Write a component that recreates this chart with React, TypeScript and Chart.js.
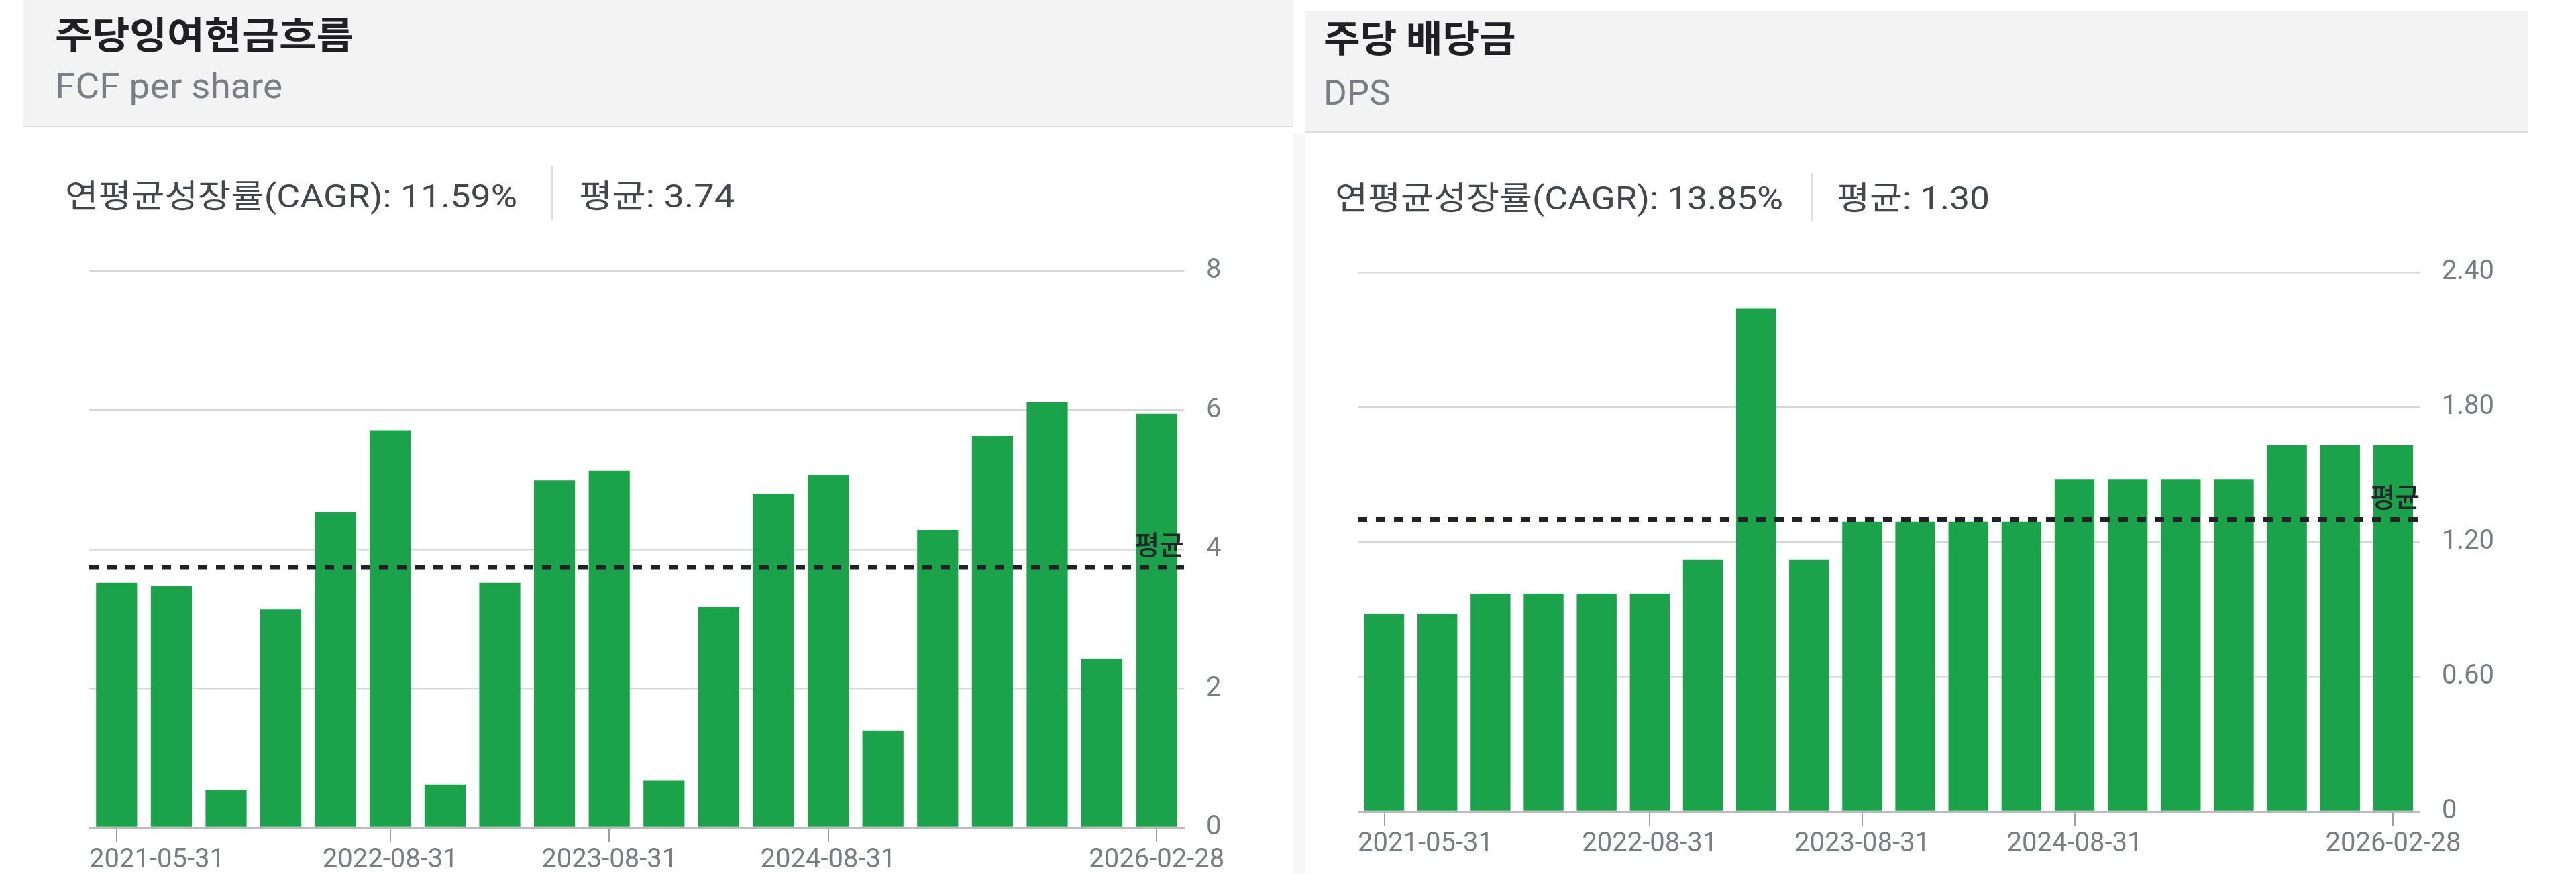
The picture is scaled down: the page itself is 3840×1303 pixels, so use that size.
import React, { useEffect, useRef } from 'react';
import { Chart, registerables } from 'chart.js';

Chart.register(...registerables);

// ---------- data ----------
const periods = [
  '2021-05-31', '2021-08-31', '2021-11-30', '2022-02-28', '2022-05-31',
  '2022-08-31', '2022-11-30', '2023-02-28', '2023-05-31', '2023-08-31',
  '2023-11-30', '2024-02-29', '2024-05-31', '2024-08-31', '2024-11-30',
  '2025-02-28', '2025-05-31', '2025-08-31', '2025-11-30', '2026-02-28',
];
const labeledPeriods = ['2021-05-31', '2022-08-31', '2023-08-31', '2024-08-31', '2026-02-28'];

const fcfPerShare = [
  3.52, 3.47, 0.54, 3.14, 4.53, 5.71, 0.62, 3.52, 4.99, 5.13,
  0.68, 3.17, 4.80, 5.07, 1.39, 4.28, 5.63, 6.11, 2.43, 5.95,
];
const dividendPerShare = [
  0.88, 0.88, 0.97, 0.97, 0.97, 0.97, 1.12, 2.24, 1.12, 1.29,
  1.29, 1.29, 1.29, 1.48, 1.48, 1.48, 1.48, 1.63, 1.63, 1.63,
];

const fcfTicks = [0, 2, 4, 6, 8];
const dpsTicks = [0, 0.6, 1.2, 1.8, 2.4];

const fcfAverage = 3.74;
const dpsAverage = 1.3;
const fcfCagr = '11.59%';
const dpsCagr = '13.85%';

const fcfTitle = '주당잉여현금흐름';
const fcfSubtitle = 'FCF per share';
const dpsTitle = '주당 배당금';
const dpsSubtitle = 'DPS';
const cagrLabel = '연평균성장률(CAGR)';
const averageLabel = '평균';

// ---------- styles ----------
const GREEN = '#1aa34a';
const LATIN = 'Roboto, "Noto Sans CJK KR", sans-serif';
const KR = '"Noto Sans CJK KR", Roboto, sans-serif';

const averagePlugin = (avg: number) => ({
  id: 'averageLine',
  afterDatasetsDraw(chart: any) {
    const { ctx, chartArea, scales } = chart;
    const y = scales.y.getPixelForValue(avg);
    ctx.save();
    ctx.beginPath();
    ctx.setLineDash([14, 13]);
    ctx.lineWidth = 7;
    ctx.strokeStyle = '#222226';
    ctx.moveTo(chartArea.left, y);
    ctx.lineTo(chartArea.right, y);
    ctx.stroke();
    ctx.setLineDash([]);
    ctx.font = '500 40px "Noto Sans CJK KR"';
    ctx.fillStyle = '#26262a';
    ctx.textAlign = 'right';
    ctx.textBaseline = 'alphabetic';
    ctx.fillText(averageLabel, chartArea.right, y - 19);
    ctx.restore();
  },
});

const edgeLabelPlugin = {
  id: 'edgeLabels',
  beforeDraw(chart: any) {
    const s = chart.scales.x;
    const items = s.getLabelItems(chart.chartArea);
    if (!items || !items.length) return;
    items[0].options.textAlign = 'left';
    items[0].options.translation[0] = chart.chartArea.left;
    items[items.length - 1].options.textAlign = 'center';
  },
};

type ChartProps = {
  values: number[];
  tickValues: number[];
  average: number;
  format: (v: number) => string;
  left: number;
  top: number;
  width: number;
  height: number;
  yAxisWidth: number;
  xAxisHeight: number;
  padTop: number;
};

function BarChart(p: ChartProps) {
  const ref = useRef<HTMLCanvasElement>(null);
  useEffect(() => {
    const labeledIdx = labeledPeriods.map((d) => periods.indexOf(d));
    const chart = new Chart(ref.current as HTMLCanvasElement, {
      type: 'bar',
      data: {
        labels: periods,
        datasets: [
          {
            data: p.values,
            backgroundColor: GREEN,
            borderWidth: 0,
            barPercentage: 0.75,
            categoryPercentage: 1,
          },
        ],
      },
      options: {
        responsive: false,
        animation: false,
        events: [],
        layout: { padding: { top: p.padTop, left: 0, right: 0, bottom: 0 } },
        plugins: { legend: { display: false }, tooltip: { enabled: false } },
        scales: {
          x: {
            type: 'category',
            offset: true,
            grid: {
              display: true,
              drawOnChartArea: false,
              drawTicks: true,
              tickLength: 22,
              offset: false,
              color: '#9c9ea5',
              tickColor: '#9c9ea5',
              tickWidth: 2,
              lineWidth: 2,
            },
            border: { display: true, color: '#b8b9c0', width: 3 },
            ticks: {
              autoSkip: false,
              maxRotation: 0,
              minRotation: 0,
              align: 'inner',
              padding: 3,
              color: '#7a7c83',
              font: { family: 'Roboto', size: 40 },
            },
            afterBuildTicks: (scale: any) => {
              scale.ticks = scale.ticks.filter((t: any) => labeledIdx.includes(t.value));
            },
            afterFit: (scale: any) => {
              scale.height = p.xAxisHeight;
            },
          },
          y: {
            position: 'right',
            min: p.tickValues[0],
            max: p.tickValues[p.tickValues.length - 1],
            grid: { color: '#d7d7d7', lineWidth: 2.5, drawTicks: false },
            border: { display: false },
            ticks: {
              padding: 33,
              color: '#7a7c83',
              font: { family: 'Roboto', size: 40 },
              callback: (v: any) => p.format(Number(v)),
            },
            afterBuildTicks: (scale: any) => {
              scale.ticks = p.tickValues.map((v) => ({ value: v }));
            },
            afterFit: (scale: any) => {
              scale.width = p.yAxisWidth;
            },
          },
        },
      } as any,
      plugins: [averagePlugin(p.average), edgeLabelPlugin],
    });
    return () => chart.destroy();
  }, []);
  return (
    <canvas
      ref={ref}
      width={p.width}
      height={p.height}
      style={{ position: 'absolute', left: p.left, top: p.top, width: p.width, height: p.height }}
    />
  );
}

const abs = (o: React.CSSProperties, sx = 1): React.CSSProperties => ({
  position: 'absolute',
  whiteSpace: 'nowrap',
  transform: sx !== 1 ? `scaleX(${sx})` : undefined,
  transformOrigin: 'left center',
  ...o,
});

export default function App() {
  return (
    <div style={abs({ left: 0, top: 0, width: 3840, height: 1303, background: '#ffffff', overflow: 'hidden' })}>
      {/* strip between panels */}
      <div style={abs({ left: 1928, top: 200, width: 17, height: 1103, background: '#f7f7f8' })} />

      {/* left header */}
      <div style={abs({ left: 35, top: 0, width: 1893, height: 188, background: '#f3f3f3', borderBottom: '2px solid #dddddd' })} />
      <div style={abs({ left: 82, top: 21, fontFamily: KR, fontSize: 55, lineHeight: '55px', fontWeight: 700, color: '#202023' }, 1.1)}>{fcfTitle}</div>
      <div style={abs({ left: 82, top: 103, fontFamily: LATIN, fontSize: 52, lineHeight: '52px', color: '#7c7e85' }, 1.06)}>{fcfSubtitle}</div>

      {/* right header */}
      <div style={abs({ left: 1945, top: 16, width: 1823, height: 180, background: '#f3f3f3', borderBottom: '2px solid #dddddd' })} />
      <div style={abs({ left: 1973, top: 26, fontFamily: KR, fontSize: 55, lineHeight: '55px', fontWeight: 700, color: '#202023' }, 1.08)}>{dpsTitle}</div>
      <div style={abs({ left: 1973, top: 113, fontFamily: LATIN, fontSize: 52, lineHeight: '52px', color: '#7c7e85' }, 1.02)}>{dpsSubtitle}</div>

      {/* left stats */}
      <div style={abs({ left: 97, top: 269, fontFamily: LATIN, fontSize: 48, lineHeight: '48px', color: '#45464b' }, 1.12)}>{`${cagrLabel}: ${fcfCagr}`}</div>
      <div style={abs({ left: 822, top: 248, width: 2, height: 80, background: '#dedede' })} />
      <div style={abs({ left: 863, top: 269, fontFamily: LATIN, fontSize: 48, lineHeight: '48px', color: '#45464b' }, 1.13)}>{`${averageLabel}: ${fcfAverage.toFixed(2)}`}</div>

      {/* right stats */}
      <div style={abs({ left: 1990, top: 272, fontFamily: LATIN, fontSize: 48, lineHeight: '48px', color: '#45464b' }, 1.11)}>{`${cagrLabel}: ${dpsCagr}`}</div>
      <div style={abs({ left: 2700, top: 258, width: 2, height: 72, background: '#dedede' })} />
      <div style={abs({ left: 2738, top: 272, fontFamily: LATIN, fontSize: 48, lineHeight: '48px', color: '#45464b' }, 1.11)}>{`${averageLabel}: ${dpsAverage.toFixed(2)}`}</div>

      <BarChart
        values={fcfPerShare}
        tickValues={fcfTicks}
        average={fcfAverage}
        format={(v) => String(v)}
        left={133}
        top={334}
        width={1732}
        height={966}
        yAxisWidth={100}
        xAxisHeight={66}
        padTop={70}
      />
      <BarChart
        values={dividendPerShare}
        tickValues={dpsTicks}
        average={dpsAverage}
        format={(v) => (v === 0 ? '0' : v.toFixed(2))}
        left={2024}
        top={336}
        width={1723}
        height={954}
        yAxisWidth={140}
        xAxisHeight={80}
        padTop={70}
      />
    </div>
  );
}
